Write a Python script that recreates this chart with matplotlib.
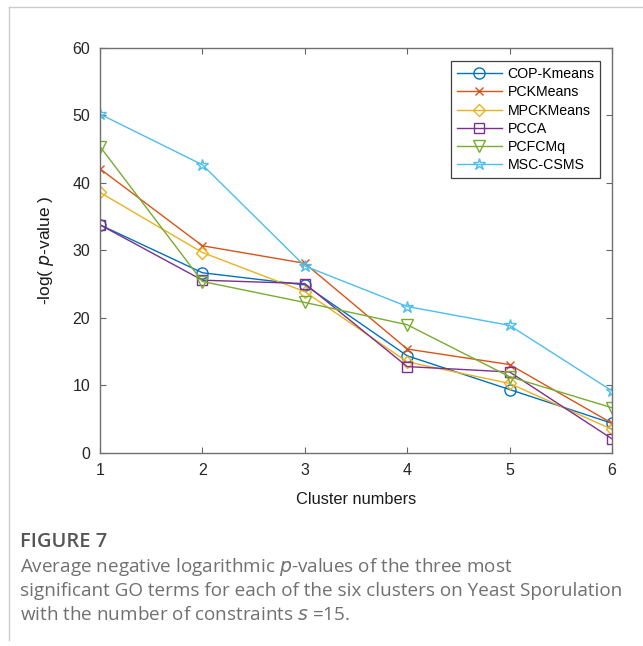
import matplotlib
matplotlib.use("Agg")
import matplotlib.pyplot as plt
from matplotlib.lines import Line2D

# Data
clusters = [1, 2, 3, 4, 5, 6]
methods = ["COP-Kmeans", "PCKMeans", "MPCKMeans", "PCCA", "PCFCMq", "MSC-CSMS"]
cop_kmeans = [33.8, 26.7, 24.9, 14.4, 9.4, 4.4]
pckmeans = [42.1, 30.7, 28.1, 15.4, 13.1, 4.4]
mpckmeans = [38.6, 29.7, 23.9, 13.5, 10.3, 3.5]
pcca = [33.8, 25.6, 25.1, 12.8, 12.0, 2.1]
pcfcmq = [45.4, 25.4, 22.3, 19.0, 11.3, 6.7]
msc_csms = [50.2, 42.7, 27.7, 21.7, 18.9, 9.2]

series = [cop_kmeans, pckmeans, mpckmeans, pcca, pcfcmq, msc_csms]
colors = ["#0072BD", "#D95319", "#EDB120", "#7E2F8E", "#77AC30", "#4DBEEE"]
markers = ["o", "x", "D", "s", "v", "*"]
msizes = [8, 6, 6, 7, 9, 9]

plt.rcParams["font.family"] = ["Liberation Sans", "DejaVu Sans"]

fig = plt.figure(figsize=(6.43, 6.46), dpi=100)
ax = fig.add_axes([0.1555, 0.2988, 0.7963, 0.6269])

for name, vals, c, m, ms in zip(methods, series, colors, markers, msizes):
    ax.plot(
        clusters,
        vals,
        color=c,
        linewidth=1.0,
        marker=m,
        markersize=ms,
        markerfacecolor="none",
        markeredgecolor=c,
        markeredgewidth=1.0,
        label=name,
    )

ax.set_xlim(1, 6)
ax.set_ylim(0, 60)
ax.set_xticks(clusters)
ax.set_yticks(range(0, 61, 10))
ax.tick_params(
    axis="both", direction="in", length=4, width=0.8, color="#666666",
    labelsize=11.5, labelcolor="#262626", top=True, right=True, pad=7,
)
for sp in ax.spines.values():
    sp.set_color("#707070")
    sp.set_linewidth(1.0)

ax.set_xlabel("Cluster numbers", fontsize=11.8, color="#1a1a1a", labelpad=10)
ax.set_ylabel("-log( $\\mathit{p}$-value )", fontsize=12.5, color="#1a1a1a", labelpad=12)

leg = ax.legend(
    loc="upper right",
    bbox_to_anchor=(0.977, 0.967),
    fontsize=10.2,
    fancybox=False,
    framealpha=1,
    edgecolor="#404040",
    handlelength=3.2,
    handletextpad=0.4,
    borderpad=0.4,
    labelspacing=0.3,
    borderaxespad=0,
)
leg.get_frame().set_linewidth(0.9)

# page frame lines (left and top)
fig.add_artist(Line2D([9 / 643, 9 / 643], [0.01, 1 - 7 / 646], color="#cccccc", linewidth=1))
fig.add_artist(Line2D([9 / 643, 1.0], [1 - 7 / 646, 1 - 7 / 646], color="#cccccc", linewidth=1))

# caption
cap_font = ["Open Sans", "DejaVu Sans"]
fig.text(20 / 643, 1 - 542 / 646, "FIGURE 7", fontsize=14.5, color="#555555",
         fontweight="semibold", family=cap_font, va="center")
caption = [
    "Average negative logarithmic $\\mathit{p}$-values of the three most",
    "significant GO terms for each of the six clusters on Yeast Sporulation",
    "with the number of constraints $\\mathit{s}$ =15.",
]
for i, line in enumerate(caption):
    fig.text(20 / 643, 1 - (567 + 24 * i) / 646, line, fontsize=13.6, color="#707070",
             family=cap_font, va="center")

plt.savefig("out.png", dpi=100)
